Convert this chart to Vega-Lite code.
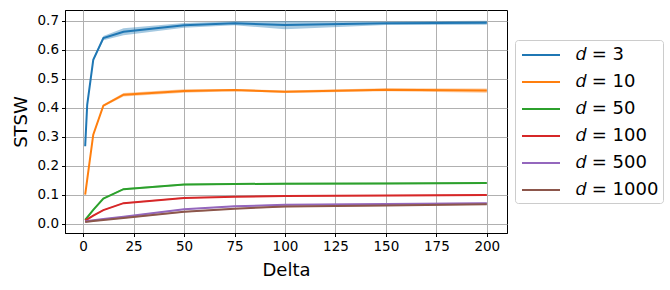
{
  "$schema": "https://vega.github.io/schema/vega-lite/v6.json",
  "autosize": {"type": "none"},
  "padding": {"left": 65, "top": 10, "right": 163, "bottom": 57},
  "width": 442,
  "height": 223,
  "background": "white",
  "config": {
    "view": {"stroke": "#000000", "strokeWidth": 1},
    "font": "DejaVu Sans",
    "axis": {
      "labelFont": "DejaVu Sans",
      "labelFontSize": 13.5,
      "labelColor": "#000000",
      "titleFont": "DejaVu Sans",
      "titleFontSize": 18,
      "titleFontWeight": "normal",
      "titleColor": "#000000",
      "tickColor": "#000000",
      "tickSize": 3.5,
      "tickWidth": 1,
      "domainColor": "#000000",
      "domainWidth": 1,
      "gridColor": "#b0b0b0",
      "gridWidth": 1,
      "labelPadding": 3,
      "labelOverlap": false
    }
  },
  "data": {
    "values": [
      {"d": "3", "delta": 1, "m": 0.267, "e": 0.004},
      {"d": "3", "delta": 2, "m": 0.41, "e": 0.005},
      {"d": "3", "delta": 5, "m": 0.565, "e": 0.005},
      {"d": "3", "delta": 10, "m": 0.64, "e": 0.007},
      {"d": "3", "delta": 20, "m": 0.662, "e": 0.012},
      {"d": "3", "delta": 50, "m": 0.684, "e": 0.008},
      {"d": "3", "delta": 75, "m": 0.691, "e": 0.007},
      {"d": "3", "delta": 100, "m": 0.685, "e": 0.014},
      {"d": "3", "delta": 150, "m": 0.691, "e": 0.006},
      {"d": "3", "delta": 200, "m": 0.693, "e": 0.007},
      {"d": "10", "delta": 1, "m": 0.1, "e": 0.003},
      {"d": "10", "delta": 2, "m": 0.152, "e": 0.003},
      {"d": "10", "delta": 5, "m": 0.307, "e": 0.004},
      {"d": "10", "delta": 10, "m": 0.407, "e": 0.004},
      {"d": "10", "delta": 20, "m": 0.445, "e": 0.006},
      {"d": "10", "delta": 50, "m": 0.458, "e": 0.006},
      {"d": "10", "delta": 75, "m": 0.461, "e": 0.004},
      {"d": "10", "delta": 100, "m": 0.455, "e": 0.004},
      {"d": "10", "delta": 150, "m": 0.462, "e": 0.005},
      {"d": "10", "delta": 200, "m": 0.459, "e": 0.007},
      {"d": "50", "delta": 1, "m": 0.013, "e": 0.002},
      {"d": "50", "delta": 2, "m": 0.022, "e": 0.002},
      {"d": "50", "delta": 5, "m": 0.048, "e": 0.002},
      {"d": "50", "delta": 10, "m": 0.087, "e": 0.002},
      {"d": "50", "delta": 20, "m": 0.119, "e": 0.003},
      {"d": "50", "delta": 50, "m": 0.135, "e": 0.003},
      {"d": "50", "delta": 75, "m": 0.137, "e": 0.003},
      {"d": "50", "delta": 100, "m": 0.138, "e": 0.003},
      {"d": "50", "delta": 150, "m": 0.139, "e": 0.003},
      {"d": "50", "delta": 200, "m": 0.14, "e": 0.003},
      {"d": "100", "delta": 1, "m": 0.011, "e": 0.002},
      {"d": "100", "delta": 2, "m": 0.015, "e": 0.002},
      {"d": "100", "delta": 5, "m": 0.028, "e": 0.002},
      {"d": "100", "delta": 10, "m": 0.047, "e": 0.002},
      {"d": "100", "delta": 20, "m": 0.071, "e": 0.002},
      {"d": "100", "delta": 50, "m": 0.089, "e": 0.002},
      {"d": "100", "delta": 75, "m": 0.093, "e": 0.002},
      {"d": "100", "delta": 100, "m": 0.096, "e": 0.002},
      {"d": "100", "delta": 150, "m": 0.097, "e": 0.002},
      {"d": "100", "delta": 200, "m": 0.099, "e": 0.003},
      {"d": "500", "delta": 1, "m": 0.008, "e": 0.002},
      {"d": "500", "delta": 2, "m": 0.009, "e": 0.002},
      {"d": "500", "delta": 5, "m": 0.012, "e": 0.002},
      {"d": "500", "delta": 10, "m": 0.016, "e": 0.002},
      {"d": "500", "delta": 20, "m": 0.024, "e": 0.002},
      {"d": "500", "delta": 50, "m": 0.05, "e": 0.002},
      {"d": "500", "delta": 75, "m": 0.06, "e": 0.002},
      {"d": "500", "delta": 100, "m": 0.065, "e": 0.002},
      {"d": "500", "delta": 150, "m": 0.068, "e": 0.002},
      {"d": "500", "delta": 200, "m": 0.071, "e": 0.002},
      {"d": "1000", "delta": 1, "m": 0.006, "e": 0.002},
      {"d": "1000", "delta": 2, "m": 0.007, "e": 0.002},
      {"d": "1000", "delta": 5, "m": 0.009, "e": 0.002},
      {"d": "1000", "delta": 10, "m": 0.013, "e": 0.002},
      {"d": "1000", "delta": 20, "m": 0.02, "e": 0.002},
      {"d": "1000", "delta": 50, "m": 0.041, "e": 0.002},
      {"d": "1000", "delta": 75, "m": 0.052, "e": 0.002},
      {"d": "1000", "delta": 100, "m": 0.059, "e": 0.002},
      {"d": "1000", "delta": 150, "m": 0.063, "e": 0.002},
      {"d": "1000", "delta": 200, "m": 0.067, "e": 0.002}
    ]
  },
  "transform": [
    {"calculate": "datum.m - datum.e", "as": "lo"},
    {"calculate": "datum.m + datum.e", "as": "hi"}
  ],
  "encoding": {
    "x": {
      "field": "delta",
      "type": "quantitative",
      "title": "Delta",
      "scale": {"domain": [-9, 210], "nice": false, "zero": false},
      "axis": {"values": [0, 25, 50, 75, 100, 125, 150, 175, 200], "titlePadding": 8}
    },
    "color": {
      "field": "d",
      "type": "nominal",
      "scale": {
        "domain": ["3", "10", "50", "100", "500", "1000"],
        "range": ["#1f77b4", "#ff7f0e", "#2ca02c", "#d62728", "#9467bd", "#8c564b"]
      },
      "legend": {
        "title": null,
        "orient": "none",
        "legendX": 450,
        "legendY": 30,
        "labelExpr": "'𝑑 = ' + datum.label",
        "labelFont": "DejaVu Sans",
        "labelFontSize": 18,
        "labelColor": "#000000",
        "labelOffset": 35,
        "symbolType": "M-0.8,0H3",
        "symbolSize": 400,
        "symbolStrokeWidth": 2,
        "symbolOpacity": 1,
        "symbolFillColor": "transparent",
        "rowPadding": 7,
        "padding": 4,
        "strokeColor": "#cccccc",
        "fillColor": "#ffffff",
        "cornerRadius": 3
      }
    }
  },
  "layer": [
    {
      "mark": {"type": "area", "opacity": 0.4},
      "encoding": {
        "y": {
          "field": "lo",
          "type": "quantitative",
          "title": "STSW",
          "scale": {"domain": [-0.032, 0.737], "nice": false, "zero": false},
          "axis": {"values": [0, 0.1, 0.2, 0.3, 0.4, 0.5, 0.6, 0.7], "format": ".1f", "titlePadding": 7}
        },
        "y2": {"field": "hi"}
      }
    },
    {
      "mark": {"type": "line", "strokeWidth": 2},
      "encoding": {
        "y": {
          "field": "m",
          "type": "quantitative",
          "title": "STSW",
          "scale": {"domain": [-0.032, 0.737], "nice": false, "zero": false},
          "axis": {"values": [0, 0.1, 0.2, 0.3, 0.4, 0.5, 0.6, 0.7], "format": ".1f", "titlePadding": 7}
        }
      }
    }
  ]
}
